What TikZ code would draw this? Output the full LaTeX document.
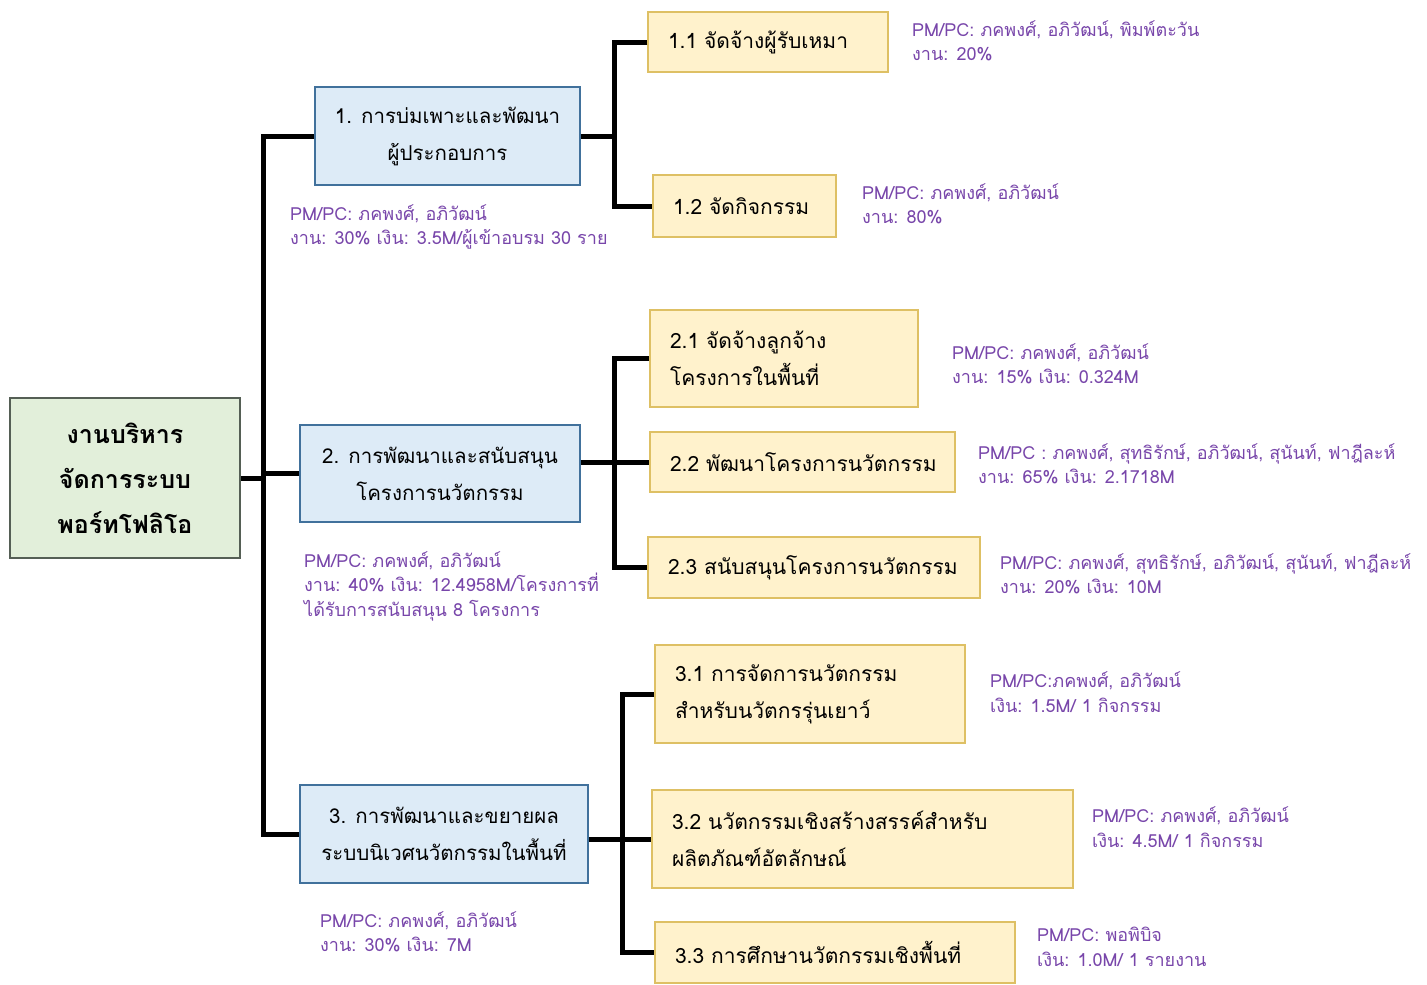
\documentclass[tikz,border=0pt]{standalone}
\usepackage{fontspec}
\setmainfont[Script=Thai]{Loma}
\definecolor{bluefill}{RGB}{221,235,247}
\definecolor{blueline}{RGB}{65,113,156}
\definecolor{yelfill}{RGB}{255,242,204}
\definecolor{yelline}{RGB}{222,192,100}
\definecolor{grnfill}{RGB}{226,239,218}
\definecolor{grnline}{RGB}{85,95,85}
\definecolor{lblcol}{RGB}{120,70,170}
\tikzset{
  rootbox/.style={draw=grnline, fill=grnfill, line width=1.5pt, align=center, font=\fontsize{25}{45}\selectfont\bfseries, inner sep=0pt},
  bluebox/.style={draw=blueline, fill=bluefill, line width=1.5pt, align=center, font=\fontsize{20.5}{37}\selectfont, inner sep=0pt},
  yelbox/.style={draw=yelline, fill=yelfill, line width=1.5pt, align=left, font=\fontsize{21}{37}\selectfont, inner xsep=20pt, inner ysep=0pt},
  lbl/.style={text=lblcol, align=left, anchor=west, inner sep=0pt, font=\fontsize{18}{24.5}\selectfont},
  conn/.style={draw=black, line width=5pt, line join=miter}
}
\begin{document}
\begin{tikzpicture}[x=1pt,y=-1pt]
\useasboundingbox (0,0) rectangle (1427,985);
% main nodes
\node[rootbox, minimum width=230pt, minimum height=160pt] (root) at (125,478) {งานบริหาร\\จัดการระบบ\\พอร์ทโฟลิโอ};
\node[bluebox, minimum width=265pt, minimum height=98pt] (b1) at (447.5,136) {1. การบ่มเพาะและพัฒนา\\ผู้ประกอบการ};
\node[bluebox, minimum width=280pt, minimum height=97pt] (b2) at (440,473.5) {2. การพัฒนาและสนับสนุน\\โครงการนวัตกรรม};
\node[bluebox, minimum width=288pt, minimum height=98pt] (b3) at (444,834) {3. การพัฒนาและขยายผล\\ระบบนิเวศนวัตกรรมในพื้นที่};
% sub nodes
\node[yelbox, text width=200pt, minimum height=60pt] (b11) at (768,42) {\mbox{1.1 จัดจ้างผู้รับเหมา}};
\node[yelbox, text width=143pt, minimum height=62pt] (b12) at (744.5,206) {\mbox{1.2 จัดกิจกรรม}};
\node[yelbox, text width=228pt, minimum height=97pt] (b21) at (784,358.5) {\mbox{2.1 จัดจ้างลูกจ้าง}\\\mbox{โครงการในพื้นที่}};
\node[yelbox, text width=265pt, minimum height=60pt] (b22) at (802.5,462) {\mbox{2.2 พัฒนาโครงการนวัตกรรม}};
\node[yelbox, text width=292pt, minimum height=61pt] (b23) at (814,567.5) {\mbox{2.3 สนับสนุนโครงการนวัตกรรม}};
\node[yelbox, text width=270pt, minimum height=98pt] (b31) at (810,694) {\mbox{3.1 การจัดการนวัตกรรม}\\\mbox{สำหรับนวัตกรรุ่นเยาว์}};
\node[yelbox, text width=381pt, minimum height=98pt] (b32) at (862.5,839) {\mbox{3.2 นวัตกรรมเชิงสร้างสรรค์สำหรับ}\\\mbox{ผลิตภัณฑ์อัตลักษณ์}};
\node[yelbox, text width=320pt, minimum height=61pt] (b33) at (835,952.5) {\mbox{3.3 การศึกษานวัตกรรมเชิงพื้นที่}};
% junctions
\coordinate (j0) at (263,478);
\coordinate (j1) at (614,136);
\coordinate (j2) at (614,462);
\coordinate (j3) at (622,839);
% connectors
\draw[conn] (b1.west) -| (j0) |- (b3.west);
\draw[conn] (root.east) -- (j0);
\draw[conn] (b2.west) -- (b2.west -| j0);
\draw[conn] (b11.west) -| (j1) |- (b12.west);
\draw[conn] (b1.east) -- (j1);
\draw[conn] (b21.west) -| (j2) |- (b23.west);
\draw[conn] (b2.east |- b22.west) -- (b22.west);
\draw[conn] (b31.west) -| (j3) |- (b33.west);
\draw[conn] (b3.east |- b32.west) -- (b32.west);
% labels
\node[lbl] (l1) at (290,227) {PM/PC: ภคพงศ์, อภิวัฒน์\\งาน: 30\% เงิน: 3.5M/ผู้เข้าอบรม 30 ราย};
\node[lbl] (l11) at (912,41) {PM/PC: ภคพงศ์, อภิวัฒน์, พิมพ์ตะวัน\\งาน: 20\%};
\node[lbl] (l12) at (862,204) {PM/PC: ภคพงศ์, อภิวัฒน์\\งาน: 80\%};
\node[lbl] (l2) at (304,586) {PM/PC: ภคพงศ์, อภิวัฒน์\\งาน: 40\% เงิน: 12.4958M/โครงการที่\\ได้รับการสนับสนุน 8 โครงการ};
\node[lbl] (l21) at (952,364) {PM/PC: ภคพงศ์, อภิวัฒน์\\งาน: 15\% เงิน: 0.324M};
\node[lbl] (l22) at (978,464) {PM/PC : ภคพงศ์, สุทธิรักษ์, อภิวัฒน์, สุนันท์, ฟาฎีละห์\\งาน: 65\% เงิน: 2.1718M};
\node[lbl] (l23) at (1000,574) {PM/PC: ภคพงศ์, สุทธิรักษ์, อภิวัฒน์, สุนันท์, ฟาฎีละห์\\งาน: 20\% เงิน: 10M};
\node[lbl] (l3) at (320,932) {PM/PC: ภคพงศ์, อภิวัฒน์\\งาน: 30\% เงิน: 7M};
\node[lbl] (l31) at (990,692) {PM/PC:ภคพงศ์, อภิวัฒน์\\เงิน: 1.5M/ 1 กิจกรรม};
\node[lbl] (l32) at (1092,827) {PM/PC: ภคพงศ์, อภิวัฒน์\\เงิน: 4.5M/ 1 กิจกรรม};
\node[lbl] (l33) at (1037,947) {PM/PC: พอพิบิจ\\เงิน: 1.0M/ 1 รายงาน};
\end{tikzpicture}
\end{document}
